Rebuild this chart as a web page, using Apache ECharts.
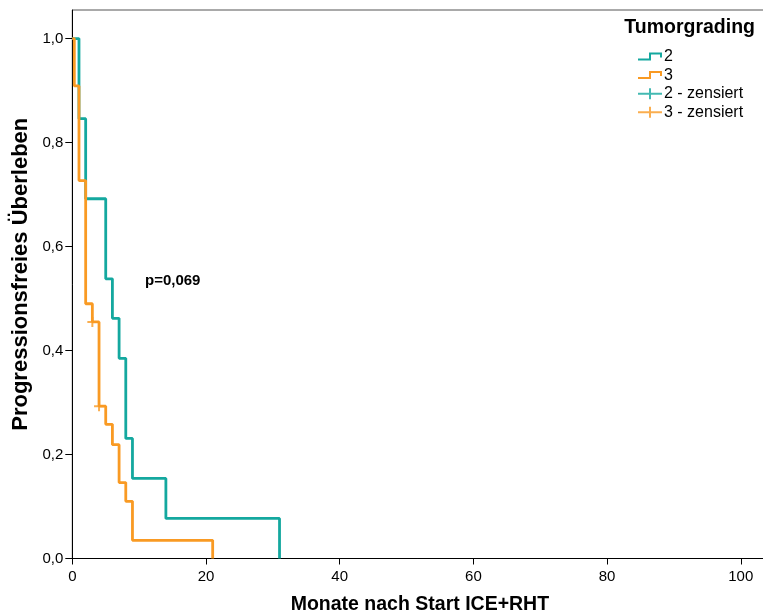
<html>
<head>
    <meta charset="utf-8">
    <script src="https://cdn.jsdelivr.net/npm/echarts@6.0.0/dist/echarts.min.js"></script>
    <style>
        html, body { margin: 0; padding: 0; background: #fff; }
        #main { width: 763px; height: 615px; }
    </style>
</head>
<body>
<div id="main"></div>
<script>
    // Kaplan-Meier steps (months, survival)
    var grade2Time = [0, 1, 2, 5, 6, 7, 8, 9, 14, 31];
    var grade2Surv = [1, 0.846, 0.692, 0.538, 0.462, 0.385, 0.231, 0.154, 0.077, 0];
    var grade3Time = [0, 0.3, 1, 2, 3, 4, 5, 6, 7, 8, 9, 21];
    var grade3Surv = [1, 0.909, 0.727, 0.49, 0.455, 0.293, 0.258, 0.219, 0.146, 0.110, 0.035, 0];
    // censored cases
    var grade2CensTime = [];
    var grade2CensSurv = [];
    var grade3CensTime = [3, 4];
    var grade3CensSurv = [0.455, 0.293];

    var xTicks = [0, 20, 40, 60, 80, 100];
    var yTicks = [0, 0.2, 0.4, 0.6, 0.8, 1.0];
    var legendNames = ['2', '3', '2 - zensiert', '3 - zensiert'];
    var pValueText = 'p=0,069';

    var TEAL = '#14a89f';
    var ORANGE = '#f99a23';
    var FONT = 'Liberation Sans, Arial, sans-serif';

    // thick outline paths so the legend icons look like strokes
    var stepIcon = 'path://M0,6 H11 V0 H24 V5 H22 V2 H13 V8 H0 Z';
    var plusIcon = 'path://M0,4.5 H11 V0 H13 V4.5 H24 V6.5 H13 V11 H11 V6.5 H0 Z';
    var plusMark = 'path://M4,0 H6 V4 H10 V6 H6 V10 H4 V6 H0 V4 H4 Z';

    function zip(xs, ys) {
        var out = [];
        for (var i = 0; i < xs.length; i++) {
            out.push([xs[i], ys[i]]);
        }
        return out;
    }

    var chart = echarts.init(document.getElementById('main'), null, {renderer: 'canvas'});

    var option = {
        animation: false,
        backgroundColor: '#fff',
        textStyle: {fontFamily: FONT},
        title: {
            text: 'Tumorgrading',
            right: 8,
            top: 18,
            padding: 0,
            textStyle: {fontFamily: FONT, fontSize: 19.5, fontWeight: 'bold', color: '#000'}
        },
        legend: {
            orient: 'vertical',
            left: 638,
            top: 48.5,
            padding: 0,
            itemGap: 2.6,
            itemWidth: 24,
            itemHeight: 11,
            textStyle: {fontFamily: FONT, fontSize: 16, color: '#000', lineHeight: 16, padding: [0, 0, 0, -3]},
            data: [
                {name: legendNames[0], icon: stepIcon},
                {name: legendNames[1], icon: stepIcon},
                {name: legendNames[2], icon: plusIcon},
                {name: legendNames[3], icon: plusIcon}
            ]
        },
        grid: {
            left: 72.3,
            right: -4.5,
            top: 10,
            bottom: 56.5,
            outerBoundsMode: 'none',
            containLabel: false,
            show: true,
            borderColor: '#555',
            borderWidth: 1
        },
        xAxis: {
            type: 'value',
            min: 0,
            max: 104,
            interval: 20,
            name: 'Monate nach Start ICE+RHT',
            nameLocation: 'middle',
            nameGap: 36,
            nameTextStyle: {fontFamily: FONT, fontSize: 19.5, fontWeight: 'bold', color: '#000'},
            axisLine: {lineStyle: {color: '#000', width: 1}},
            axisTick: {length: 6, lineStyle: {color: '#000'}, customValues: xTicks},
            axisLabel: {
                margin: 11,
                fontSize: 15,
                color: '#000',
                fontFamily: FONT,
                customValues: xTicks
            },
            splitLine: {show: false}
        },
        yAxis: {
            type: 'value',
            min: 0,
            max: 1.055,
            interval: 0.2,
            name: 'Progressionsfreies Überleben',
            nameLocation: 'middle',
            nameGap: 34,
            nameTextStyle: {fontFamily: FONT, fontSize: 22, fontWeight: 'bold', color: '#000', padding: [0, 0, 0, 20]},
            axisLine: {lineStyle: {color: '#000', width: 1}},
            axisTick: {length: 7, lineStyle: {color: '#000'}, customValues: yTicks},
            axisLabel: {
                margin: 9,
                fontSize: 15,
                color: '#000',
                fontFamily: FONT,
                customValues: yTicks,
                formatter: function (v) {
                    return v.toFixed(1).replace('.', ',');
                }
            },
            splitLine: {show: false}
        },
        graphic: [{
            type: 'text',
            left: 145,
            top: 273,
            style: {text: pValueText, font: 'bold 15px ' + FONT, fill: '#000'}
        }],
        series: [
            {
                name: legendNames[0],
                type: 'line',
                step: 'end',
                showSymbol: false,
                symbol: 'none',
                color: TEAL,
                lineStyle: {color: TEAL, width: 2.8},
                itemStyle: {color: TEAL},
                z: 2,
                data: zip(grade2Time, grade2Surv)
            },
            {
                name: legendNames[1],
                type: 'line',
                step: 'end',
                showSymbol: false,
                symbol: 'none',
                color: ORANGE,
                lineStyle: {color: ORANGE, width: 2.8},
                itemStyle: {color: ORANGE},
                z: 3,
                data: zip(grade3Time, grade3Surv)
            },
            {
                name: legendNames[2],
                type: 'scatter',
                symbol: plusMark,
                symbolSize: 10,
                itemStyle: {color: TEAL},
                z: 4,
                data: zip(grade2CensTime, grade2CensSurv)
            },
            {
                name: legendNames[3],
                type: 'scatter',
                symbol: plusMark,
                symbolSize: 10,
                itemStyle: {color: ORANGE},
                z: 4,
                data: zip(grade3CensTime, grade3CensSurv)
            }
        ]
    };

    chart.setOption(option);
</script>
</body>
</html>
